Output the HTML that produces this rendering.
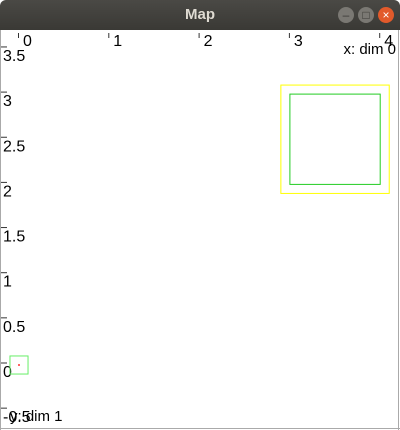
<!DOCTYPE html>
<html><head><meta charset="utf-8"><style>
html,body{margin:0;padding:0;width:400px;height:430px;overflow:hidden;background:#fff;font-family:"Liberation Sans",sans-serif}
#tb{position:absolute;left:0;top:0;width:400px;height:30px;background:linear-gradient(#4a4945,#3a3935);border-radius:6px 6px 0 0}
#tt{position:absolute;left:0;width:400px;top:6px;text-align:center;color:#dfdbd2;font-weight:bold;font-size:15px}
.b{position:absolute;top:7px;width:16px;height:16px;border-radius:50%;background:#7a7873;color:#3a3935;font-size:12px;line-height:16px;text-align:center}
</style></head><body>
<div id="tb"><div id="tt">Map</div>
<div class="b" style="left:338px">–</div>
<div class="b" style="left:358px">□</div>
<div class="b" style="left:378px;background:#e25a2b;color:#fff">×</div></div>
<svg id="c" width="400" height="430" style="position:absolute;left:0;top:0">
<line x1="0.5" y1="30" x2="0.5" y2="430" stroke="#aaa"/>
<line x1="398.5" y1="30" x2="398.5" y2="430" stroke="#aaa"/>
<line x1="0" y1="428.5" x2="400" y2="428.5" stroke="#aaa"/>
</svg>
<script>
const xTicks=[0,1,2,3,4];
const yTicks=[3.5,3,2.5,2,1.5,1,0.5,0,-0.5];
const yLabels=["3.5","3","2.5","2","1.5","1","0.5","0","-0.5"];
const rectX0=[-0.1,2.9,3.0];
const rectX1=[0.1,4.1,4.0];
const rectY0=[-0.1,1.9,2.0];
const rectY1=[0.1,3.1,3.0];
const rectColors=["#66ee66","#ffff00","#22cc22"];
const pointX=[0];
const pointY=[0];
const sx=v=>19+v*90.3, sy=v=>365-v*90.3;
const svg=document.getElementById('c'), NS="http://www.w3.org/2000/svg";
function mk(t,a){const e=document.createElementNS(NS,t);for(const k in a)e.setAttribute(k,a[k]);svg.appendChild(e);return e;}
xTicks.forEach(v=>{
 const l=mk('line',{x1:sx(v)-0.5,y1:33,x2:sx(v)-0.5,y2:38,stroke:'#333'});
 
 
 const t=mk('text',{x:sx(v)+4,y:46,'font-size':16,fill:'#000'});t.textContent=v;
 
 
});
yTicks.forEach((v,i)=>{
 const l=mk('line',{x1:1,y1:sy(v)-2,x2:7,y2:sy(v)-2,stroke:'#333'});
 
 
 const t=mk('text',{x:3,y:sy(v)+12,'font-size':16,fill:'#000'});t.textContent=yLabels[i];
 
 
});
const xt=mk('text',{x:396,y:54,'font-size':15,'text-anchor':'end',fill:'#000'});xt.textContent='x: dim 0';


const yt=mk('text',{x:10,y:421,'font-size':15,fill:'#000'});yt.textContent='y: dim 1';


rectX0.forEach((x0,i)=>{
 const a=sx(x0),b=sx(rectX1[i]),c=sy(rectY1[i]),d=sy(rectY0[i]);
 const r=mk('rect',{x:a,y:c,width:b-a,height:d-c,fill:'none',stroke:rectColors[i],'stroke-width':1});
 
 
});
pointX.forEach((x,i)=>{
 const p=mk('circle',{cx:sx(x),cy:sy(pointY[i]),r:1,fill:'#ff3333'});
 
 
});
</script>
</body></html>
